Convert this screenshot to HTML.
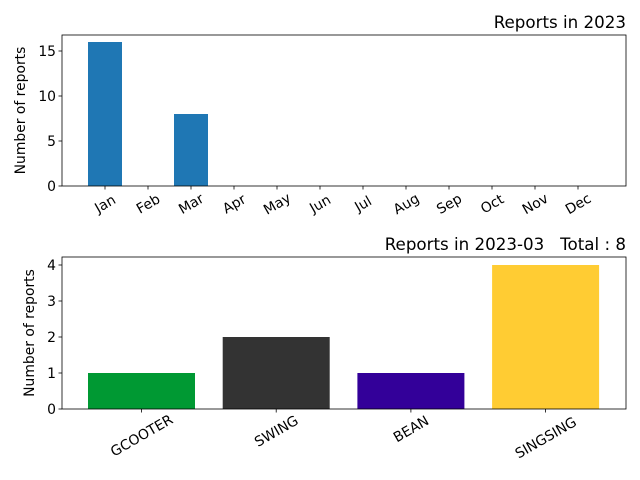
<!DOCTYPE html>
<html><head><meta charset="utf-8"><style>
body{margin:0;background:#fff;}
svg{display:block;font-family:"DejaVu Sans","Liberation Sans",sans-serif;}
text{white-space:pre;}
</style></head><body>
<svg id="c" width="640" height="480" xmlns="http://www.w3.org/2000/svg"></svg>
<script>
const months=["Jan","Feb","Mar","Apr","May","Jun","Jul","Aug","Sep","Oct","Nov","Dec"];
const monthValues=[16,0,8,0,0,0,0,0,0,0,0,0];
const topTicks=[0,5,10,15];
const names=["GCOOTER","SWING","BEAN","SINGSING"];
const nameValues=[1,2,1,4];
const nameColors=["#009933","#333333","#330099","#ffcc33"];
const botTicks=[0,1,2,3,4];
const svg=document.getElementById('c');
const NS="http://www.w3.org/2000/svg";
function mk(t,a,txt){const e=document.createElementNS(NS,t);for(const k in a)e.setAttribute(k,a[k]);if(txt!==undefined)e.textContent=txt;svg.appendChild(e);return e;}
function panel(o){
  const {L,R,T,B,cats,vals,colors,ticks,yScale,xAt,bw,title,name,ylx}=o;
  const y=v=>B-v*yScale;
  cats.forEach((c,i)=>{
    const v=vals[i];
    const r=mk('rect',{x:xAt(i)-bw/2,y:y(v),width:bw,height:B-y(v),fill:colors?colors[i]:'#1f77b4'});
    
    
    mk('line',{x1:xAt(i),x2:xAt(i),y1:B,y2:B+3.5,stroke:'#000','stroke-width':0.8});
    const w=c.length*8.7;
    const cx=xAt(i),cy=B+5+(w*0.5+13.9*0.866)/2;
    const t=mk('text',{x:cx,y:cy+5,'font-size':13.9,'text-anchor':'middle',transform:`rotate(-30 ${cx} ${cy})`},c);
    
    
  });
  ticks.forEach(v=>{
    mk('line',{x1:L-3.5,x2:L,y1:y(v),y2:y(v),stroke:'#000','stroke-width':0.8});
    const t=mk('text',{x:L-6,y:y(v)+5,'font-size':13.9,'text-anchor':'end'},v);
    
    
  });
  const f=mk('rect',{x:L,y:T,width:R-L,height:B-T,fill:'none',stroke:'#000','stroke-width':0.8});
  
  
  const ti=mk('text',{x:R,y:T-7,'font-size':16.7,'text-anchor':'end'},title);
  
  
  const my=(T+B)/2;
  const yl=mk('text',{x:ylx,y:my,'font-size':13.9,'text-anchor':'middle',transform:`rotate(-90 ${ylx} ${my})`},'Number of reports');
  
  
}
panel({L:62,R:626,T:35,B:186,cats:months,vals:monthValues,ticks:topTicks,yScale:9,xAt:i=>105+43*i,bw:34,title:'Reports in 2023',name:'monthly-chart',ylx:25});
panel({L:62,R:626,T:257,B:409,cats:names,vals:nameValues,colors:nameColors,ticks:botTicks,yScale:36,xAt:i=>141.5+134.7*i,bw:107,title:'Reports in 2023-03   Total : 8',name:'category-chart',ylx:34});
</script>
</body></html>
